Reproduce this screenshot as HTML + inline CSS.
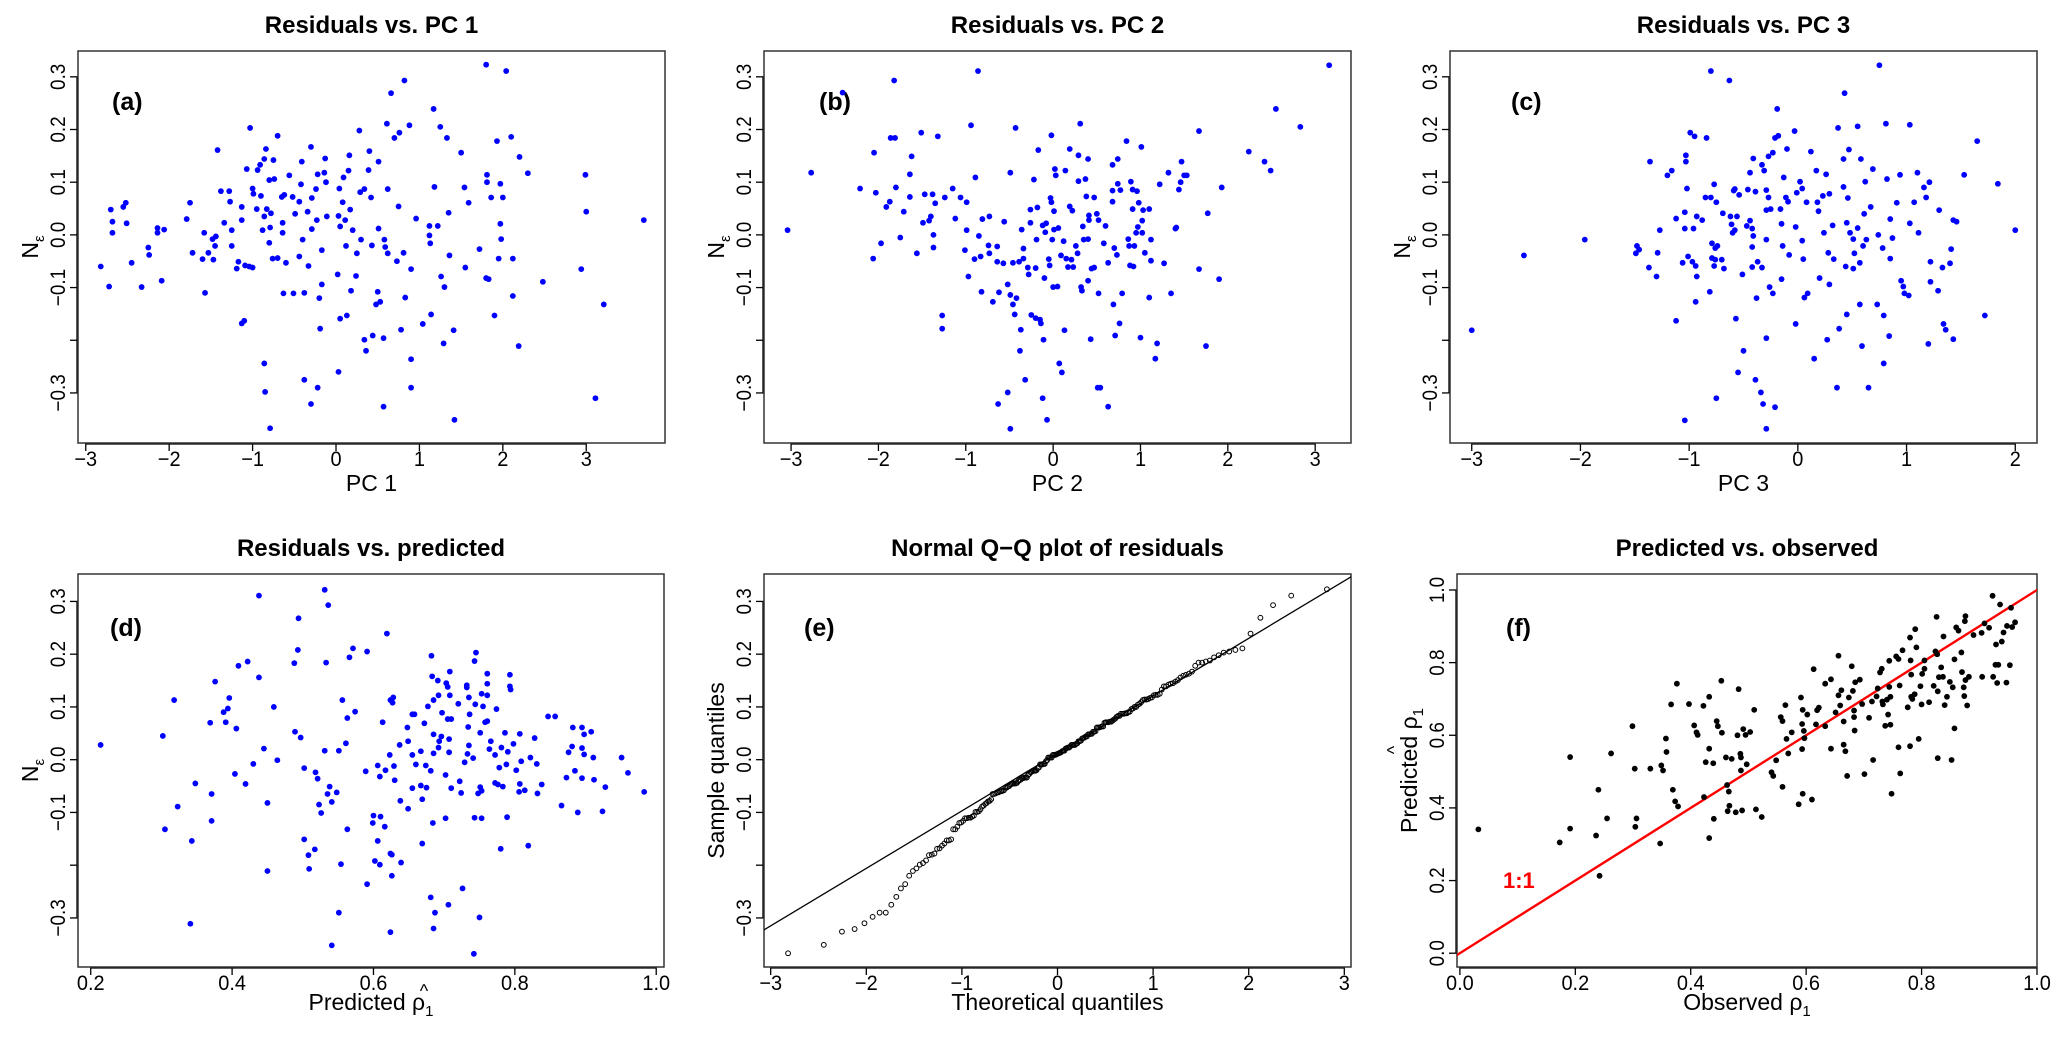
<!DOCTYPE html>
<html><head><meta charset="utf-8"><style>
html,body{margin:0;padding:0;background:#fff;}
svg{display:block;font-family:"Liberation Sans",sans-serif;}
</style></head><body>
<svg id="chart" width="2067" height="1038" viewBox="0 0 2067 1038" xmlns="http://www.w3.org/2000/svg"></svg>
<script>
// ---------- DATA ----------
const pc1Points=[[-2.82,-0.06],[-2.70,0.048],[-2.68,0.025],[-2.68,0.004],[-2.72,-0.098],[-2.55,0.053],[-2.52,0.061],[-2.51,0.022],[-2.45,-0.053],[-2.33,-0.099],[-2.25,-0.024],[-2.24,-0.038],[-2.14,0.013],[-2.14,0.004],[-2.06,0.010],[-2.09,-0.087],[-1.79,0.030],[-1.75,0.061],[-1.72,-0.034],[-1.60,-0.046],[-1.58,0.004],[-1.57,-0.11],[-1.53,-0.034],[-1.48,-0.008],[-1.47,-0.047],[-1.45,-0.021],[-1.44,-0.003],[-1.42,0.161],[-1.38,0.083],[-1.34,0.023],[-1.28,0.083],[-1.27,0.063],[-1.25,0.009],[-1.25,-0.021],[-1.19,-0.064],[-1.17,-0.051],[-1.13,0.053],[-1.13,0.028],[-1.13,-0.168],[-1.10,-0.163],[-1.07,0.125],[-1.09,-0.058],[-1.04,-0.06],[-1.03,0.203],[-1.00,-0.062],[-1.00,0.088],[-0.99,0.078],[-0.95,0.049],[-0.94,0.123],[-0.91,0.133],[-0.90,0.074],[-0.88,0.009],[-0.86,0.035],[-0.86,0.144],[-0.84,0.163],[-0.83,0.049],[-0.80,0.104],[-0.80,-0.015],[-0.79,0.014],[-0.78,0.041],[-0.76,-0.045],[-0.75,0.142],[-0.74,0.106],[-0.70,0.188],[-0.70,-0.044],[-0.65,0.072],[-0.64,0.023],[-0.64,0.004],[-0.63,-0.111],[-0.62,0.076],[-0.60,-0.053],[-0.56,0.113],[-0.52,0.072],[-0.51,-0.111],[-0.49,0.040],[-0.44,0.063],[-0.44,-0.041],[-0.42,0.096],[-0.41,0.139],[-0.40,-0.009],[-0.38,-0.11],[-0.34,0.044],[-0.33,-0.059],[-0.30,0.167],[-0.29,0.070],[-0.29,0.011],[-0.24,0.087],[-0.23,0.028],[-0.22,0.115],[-0.20,-0.12],[-0.19,-0.178],[-0.17,-0.029],[-0.17,-0.094],[-0.14,0.118],[-0.13,0.145],[-0.12,0.10],[-0.11,0.035],[0.02,-0.075],[0.03,0.036],[0.04,0.088],[0.05,-0.159],[0.05,0.016],[0.08,0.062],[0.09,0.109],[0.11,0.028],[0.12,-0.021],[0.13,-0.153],[0.15,0.122],[0.16,0.151],[0.17,0.048],[0.18,-0.106],[0.20,0.009],[0.24,-0.078],[0.25,-0.035],[0.28,0.198],[0.29,0.081],[0.30,-0.009],[0.34,0.087],[0.34,-0.199],[0.36,-0.22],[0.40,0.159],[0.39,0.123],[0.42,0.071],[0.43,-0.02],[0.44,-0.191],[0.48,-0.132],[0.50,-0.108],[0.51,0.139],[0.51,0.012],[0.53,-0.127],[0.57,-0.196],[0.58,-0.009],[0.59,-0.023],[0.61,0.211],[0.62,0.087],[0.62,-0.035],[0.66,0.269],[0.70,0.184],[0.73,-0.05],[0.75,0.054],[0.76,0.194],[0.78,-0.18],[0.81,-0.034],[0.82,0.293],[0.83,-0.119],[0.88,0.208],[0.90,-0.065],[0.90,-0.236],[0.96,0.031],[1.04,-0.169],[1.12,-0.001],[1.12,0.017],[1.13,-0.016],[1.14,-0.151],[1.17,0.239],[1.18,0.091],[1.22,0.017],[1.25,0.205],[1.26,-0.079],[1.29,-0.206],[1.30,-0.099],[1.33,0.184],[1.35,0.042],[1.36,-0.039],[1.41,-0.181],[1.50,0.156],[1.54,0.09],[1.55,-0.062],[1.59,0.061],[1.72,-0.027],[1.80,0.323],[1.80,-0.082],[1.81,0.114],[1.81,0.10],[1.83,-0.084],[1.86,0.071],[1.90,-0.153],[1.93,0.178],[1.95,-0.045],[1.97,0.097],[1.97,0.021],[1.98,-0.008],[2.00,0.071],[2.04,0.311],[2.10,0.186],[2.12,-0.116],[2.12,-0.045],[2.19,-0.211],[2.20,0.148],[2.30,0.117],[2.48,-0.089],[2.94,-0.065],[2.99,0.114],[3.00,0.044],[3.21,-0.132],[3.69,0.028],[-0.86,-0.244],[-0.85,-0.298],[-0.79,-0.367],[-0.38,-0.275],[-0.30,-0.321],[-0.22,-0.290],[0.03,-0.260],[0.57,-0.326],[0.90,-0.290],[1.42,-0.351],[3.11,-0.31]];
const pc2Points=[[-3.04,0.009],[-2.77,0.118],[-2.41,0.27],[-2.21,0.088],[-2.06,-0.045],[-2.05,0.156],[-2.03,0.08],[-1.97,-0.016],[-1.91,0.053],[-1.87,0.063],[-1.86,0.184],[-1.82,0.293],[-1.81,0.184],[-1.80,0.09],[-1.75,-0.005],[-1.71,0.044],[-1.64,0.115],[-1.64,0.072],[-1.62,0.149],[-1.56,-0.035],[-1.51,0.194],[-1.49,0.023],[-1.47,0.077],[-1.42,0.027],[-1.40,0.035],[-1.38,0.077],[-1.37,0.0],[-1.37,-0.024],[-1.35,0.06],[-1.32,0.187],[-1.27,-0.153],[-1.27,-0.178],[-1.24,0.071],[-1.15,0.088],[-1.12,0.031],[-1.06,0.071],[-1.01,-0.029],[-0.99,0.009],[-0.99,0.062],[-0.97,-0.079],[-0.94,0.208],[-0.90,-0.046],[-0.89,0.109],[-0.86,0.311],[-0.85,-0.002],[-0.83,-0.041],[-0.82,-0.108],[-0.81,0.030],[-0.74,-0.02],[-0.73,0.035],[-0.73,-0.035],[-0.69,-0.127],[-0.64,-0.022],[-0.64,-0.051],[-0.63,-0.321],[-0.62,-0.109],[-0.57,-0.054],[-0.56,0.025],[-0.52,-0.094],[-0.52,-0.299],[-0.49,-0.114],[-0.49,-0.368],[-0.49,0.118],[-0.46,-0.053],[-0.46,-0.132],[-0.44,-0.151],[-0.43,0.203],[-0.42,-0.12],[-0.39,-0.051],[-0.38,-0.22],[-0.37,-0.18],[-0.36,0.01],[-0.34,-0.026],[-0.34,-0.045],[-0.32,-0.275],[-0.29,-0.062],[-0.28,-0.075],[-0.26,0.048],[-0.26,0.023],[-0.25,-0.152],[-0.20,-0.158],[-0.22,0.105],[-0.20,-0.063],[-0.19,-0.009],[-0.18,0.052],[-0.17,0.161],[-0.15,-0.161],[-0.14,-0.168],[-0.12,-0.31],[-0.11,-0.199],[-0.12,0.018],[-0.10,-0.082],[-0.09,0.005],[-0.08,0.022],[-0.07,-0.351],[-0.05,-0.046],[-0.04,-0.058],[-0.03,0.07],[-0.02,0.189],[-0.02,0.062],[-0.01,-0.009],[0.0,-0.099],[0.01,0.045],[0.01,0.01],[0.02,0.125],[0.03,0.113],[0.05,-0.098],[0.06,0.013],[0.07,-0.244],[0.09,-0.039],[0.10,-0.261],[0.12,-0.012],[0.13,-0.181],[0.14,0.122],[0.15,-0.045],[0.17,-0.061],[0.19,0.054],[0.19,0.163],[0.21,-0.047],[0.22,0.046],[0.23,-0.061],[0.26,-0.021],[0.28,-0.035],[0.29,0.151],[0.29,0.102],[0.31,0.211],[0.32,-0.099],[0.33,-0.106],[0.34,0.016],[0.35,-0.009],[0.37,0.106],[0.38,0.073],[0.40,0.144],[0.40,-0.008],[0.40,-0.087],[0.41,0.028],[0.41,0.037],[0.43,-0.198],[0.44,-0.064],[0.47,0.071],[0.47,-0.062],[0.50,0.04],[0.51,-0.29],[0.52,0.028],[0.52,-0.111],[0.54,-0.29],[0.58,-0.016],[0.60,0.017],[0.63,-0.053],[0.63,-0.326],[0.68,0.133],[0.68,0.063],[0.68,0.084],[0.69,-0.132],[0.70,-0.025],[0.71,-0.191],[0.73,-0.038],[0.74,0.144],[0.74,0.097],[0.76,-0.168],[0.77,0.085],[0.79,-0.111],[0.84,0.178],[0.86,-0.008],[0.87,-0.021],[0.88,-0.058],[0.89,0.101],[0.91,0.049],[0.91,0.086],[0.92,-0.06],[0.93,-0.021],[0.95,0.004],[0.96,0.083],[0.97,0.015],[0.98,0.061],[1.00,-0.195],[1.01,0.167],[1.02,0.004],[1.02,0.027],[1.03,0.047],[1.05,-0.034],[1.10,-0.119],[1.10,0.049],[1.12,-0.009],[1.12,-0.049],[1.17,-0.235],[1.19,-0.206],[1.22,0.096],[1.27,-0.054],[1.32,0.118],[1.35,-0.111],[1.40,0.012],[1.41,0.014],[1.44,0.086],[1.46,0.1],[1.47,0.139],[1.50,0.113],[1.53,0.113],[1.67,0.197],[1.67,-0.065],[1.75,-0.211],[1.77,0.041],[1.90,-0.084],[1.93,0.09],[2.24,0.158],[2.42,0.139],[2.49,0.122],[2.55,0.239],[2.83,0.205],[3.16,0.322]];
const pc3Points=[[-3.00,-0.181],[-2.52,-0.039],[-1.96,-0.009],[-1.49,-0.035],[-1.48,-0.021],[-1.46,-0.028],[-1.37,-0.062],[-1.36,0.139],[-1.30,-0.079],[-1.29,-0.034],[-1.27,0.009],[-1.20,0.113],[-1.16,0.122],[-1.12,-0.163],[-1.12,0.031],[-1.06,-0.053],[-1.04,-0.352],[-1.04,0.043],[-1.04,0.012],[-1.03,0.151],[-1.03,0.139],[-1.02,0.088],[-1.01,-0.041],[-0.99,0.194],[-0.97,-0.051],[-0.96,0.012],[-0.95,0.187],[-0.94,-0.127],[-0.94,-0.059],[-0.93,0.035],[-0.93,-0.079],[-0.88,0.028],[-0.85,0.071],[-0.84,0.184],[-0.81,-0.108],[-0.80,0.311],[-0.80,0.071],[-0.79,-0.016],[-0.79,-0.044],[-0.77,0.096],[-0.77,-0.059],[-0.76,-0.047],[-0.76,-0.025],[-0.75,-0.31],[-0.75,0.062],[-0.74,-0.021],[-0.70,-0.047],[-0.69,0.041],[-0.68,-0.064],[-0.63,0.293],[-0.62,0.035],[-0.61,0.02],[-0.60,0.004],[-0.59,0.084],[-0.58,0.087],[-0.58,0.009],[-0.57,-0.159],[-0.56,0.035],[-0.55,-0.261],[-0.54,0.076],[-0.51,-0.075],[-0.50,-0.22],[-0.47,0.017],[-0.46,0.086],[-0.44,0.118],[-0.44,0.027],[-0.42,0.012],[-0.42,-0.023],[-0.42,-0.061],[-0.41,0.145],[-0.41,-0.002],[-0.39,-0.275],[-0.39,0.082],[-0.38,-0.12],[-0.37,-0.051],[-0.34,-0.299],[-0.33,0.133],[-0.33,-0.062],[-0.32,-0.321],[-0.31,0.122],[-0.29,0.047],[-0.29,0.085],[-0.29,-0.368],[-0.29,-0.009],[-0.29,-0.196],[-0.27,0.071],[-0.27,0.149],[-0.26,-0.099],[-0.25,0.049],[-0.23,0.156],[-0.23,-0.111],[-0.21,-0.327],[-0.21,0.184],[-0.19,0.239],[-0.18,0.188],[-0.16,0.049],[-0.15,0.021],[-0.15,-0.084],[-0.14,-0.021],[-0.13,0.109],[-0.11,0.071],[-0.10,0.163],[-0.09,0.063],[-0.08,-0.038],[-0.03,0.197],[-0.02,0.015],[-0.02,-0.169],[-0.01,0.08],[0.02,0.101],[0.04,-0.011],[0.04,0.088],[0.05,-0.046],[0.06,-0.119],[0.09,-0.111],[0.08,0.062],[0.12,0.158],[0.15,-0.235],[0.17,0.122],[0.18,0.062],[0.19,0.045],[0.20,-0.082],[0.23,0.074],[0.24,0.004],[0.26,0.115],[0.27,-0.199],[0.28,-0.034],[0.29,0.078],[0.29,-0.094],[0.32,0.018],[0.33,-0.046],[0.36,-0.29],[0.37,0.203],[0.38,-0.178],[0.42,0.091],[0.42,0.144],[0.43,0.269],[0.44,-0.06],[0.45,-0.151],[0.45,0.023],[0.46,0.07],[0.47,0.162],[0.48,0.004],[0.51,-0.008],[0.51,-0.064],[0.52,-0.035],[0.55,0.013],[0.55,0.206],[0.57,-0.132],[0.57,-0.053],[0.58,0.144],[0.59,-0.211],[0.60,-0.021],[0.61,0.04],[0.62,0.101],[0.63,-0.009],[0.65,-0.29],[0.67,0.053],[0.69,0.125],[0.73,-0.132],[0.74,0.0],[0.75,0.322],[0.78,-0.025],[0.79,-0.244],[0.79,-0.153],[0.81,0.211],[0.82,0.106],[0.84,-0.192],[0.85,-0.045],[0.85,0.03],[0.87,-0.006],[0.91,0.061],[0.94,0.114],[0.95,-0.087],[0.97,-0.098],[0.98,-0.111],[1.02,-0.115],[1.03,0.209],[1.03,0.022],[1.07,0.062],[1.10,0.118],[1.11,0.004],[1.16,0.09],[1.18,0.071],[1.20,-0.207],[1.21,0.10],[1.22,-0.051],[1.22,-0.089],[1.29,-0.106],[1.30,0.047],[1.33,-0.062],[1.34,-0.169],[1.36,-0.18],[1.40,-0.054],[1.41,-0.027],[1.43,0.028],[1.43,-0.198],[1.46,0.025],[1.53,0.114],[1.65,0.178],[1.72,-0.153],[1.84,0.097],[2.00,0.009]];
const predPoints=[[0.214,0.028],[0.302,0.045],[0.305,-0.132],[0.318,0.113],[0.323,-0.089],[0.341,-0.311],[0.343,-0.154],[0.348,-0.045],[0.369,0.070],[0.371,-0.065],[0.371,-0.116],[0.376,0.148],[0.388,0.09],[0.391,0.071],[0.394,0.097],[0.396,0.117],[0.404,-0.027],[0.406,0.059],[0.409,0.178],[0.419,-0.046],[0.422,0.186],[0.430,-0.008],[0.438,0.311],[0.438,0.156],[0.445,0.021],[0.450,-0.211],[0.450,-0.082],[0.459,0.10],[0.464,-0.001],[0.488,0.183],[0.489,0.053],[0.493,0.208],[0.494,0.268],[0.497,0.042],[0.502,-0.016],[0.502,-0.151],[0.508,-0.181],[0.509,-0.207],[0.517,-0.17],[0.518,-0.024],[0.521,-0.036],[0.523,-0.085],[0.526,-0.101],[0.531,0.322],[0.531,0.017],[0.533,0.184],[0.535,-0.065],[0.536,0.293],[0.538,-0.051],[0.541,-0.080],[0.541,-0.352],[0.548,-0.062],[0.551,0.017],[0.551,-0.29],[0.554,-0.198],[0.556,0.113],[0.561,0.031],[0.563,0.079],[0.563,-0.132],[0.566,0.194],[0.571,0.211],[0.574,0.091],[0.589,-0.022],[0.591,0.205],[0.591,-0.236],[0.599,-0.12],[0.600,-0.106],[0.602,-0.192],[0.606,-0.011],[0.606,-0.154],[0.609,-0.032],[0.609,-0.199],[0.610,-0.108],[0.613,0.071],[0.616,-0.127],[0.617,-0.02],[0.619,0.239],[0.623,0.009],[0.624,-0.327],[0.624,-0.178],[0.626,-0.18],[0.624,0.113],[0.627,0.108],[0.628,0.118],[0.626,-0.22],[0.629,-0.012],[0.630,-0.039],[0.637,0.028],[0.638,-0.078],[0.639,-0.195],[0.648,0.061],[0.649,-0.093],[0.649,0.035],[0.655,0.009],[0.655,-0.054],[0.655,0.086],[0.658,0.086],[0.660,-0.009],[0.667,0.016],[0.667,-0.049],[0.669,-0.075],[0.669,-0.159],[0.672,0.069],[0.674,-0.011],[0.675,-0.053],[0.677,0.101],[0.681,-0.261],[0.681,-0.021],[0.682,0.197],[0.683,0.158],[0.684,-0.12],[0.685,-0.32],[0.685,0.012],[0.685,0.048],[0.685,0.113],[0.687,-0.29],[0.691,0.15],[0.692,0.122],[0.692,0.023],[0.693,0.035],[0.696,0.044],[0.697,0.089],[0.702,-0.029],[0.702,-0.111],[0.703,0.145],[0.705,0.138],[0.705,0.077],[0.706,-0.275],[0.707,0.039],[0.707,0.014],[0.708,0.167],[0.708,0.122],[0.710,0.077],[0.710,-0.054],[0.720,0.106],[0.722,-0.041],[0.724,-0.063],[0.726,-0.244],[0.729,-0.005],[0.732,0.141],[0.732,0.137],[0.733,0.011],[0.734,0.062],[0.735,0.118],[0.735,0.027],[0.736,0.086],[0.741,0.003],[0.742,-0.368],[0.743,0.187],[0.743,-0.11],[0.744,0.105],[0.745,0.203],[0.748,-0.064],[0.750,-0.299],[0.751,0.051],[0.751,-0.052],[0.753,0.125],[0.753,-0.059],[0.753,-0.111],[0.755,0.101],[0.758,0.071],[0.761,0.122],[0.761,0.163],[0.761,0.144],[0.761,0.073],[0.764,0.02],[0.766,0.035],[0.772,0.009],[0.772,-0.044],[0.774,0.096],[0.776,-0.047],[0.778,-0.015],[0.780,-0.169],[0.781,0.023],[0.783,-0.051],[0.786,0.051],[0.788,-0.009],[0.789,-0.109],[0.790,0.015],[0.793,0.161],[0.793,0.139],[0.794,0.133],[0.798,0.03],[0.802,-0.02],[0.806,-0.061],[0.807,-0.046],[0.807,0.049],[0.809,-0.003],[0.814,-0.058],[0.819,-0.163],[0.822,0.004],[0.828,0.041],[0.831,-0.008],[0.832,-0.064],[0.838,-0.047],[0.847,0.082],[0.857,0.082],[0.866,-0.087],[0.873,-0.034],[0.876,0.014],[0.881,0.025],[0.882,0.061],[0.885,-0.021],[0.889,-0.1],[0.895,0.022],[0.895,-0.035],[0.895,0.061],[0.898,0.048],[0.898,0.01],[0.908,0.053],[0.911,0.004],[0.912,-0.038],[0.924,-0.098],[0.928,-0.052],[0.951,0.004],[0.960,-0.025],[0.983,-0.061]];
const obsPredPoints=[[0.032,0.341],[0.173,0.305],[0.191,0.540],[0.191,0.343],[0.236,0.324],[0.240,0.450],[0.242,0.213],[0.255,0.371],[0.262,0.550],[0.299,0.625],[0.303,0.508],[0.304,0.348],[0.306,0.371],[0.330,0.508],[0.349,0.517],[0.352,0.503],[0.347,0.302],[0.357,0.591],[0.358,0.554],[0.369,0.450],[0.373,0.418],[0.376,0.742],[0.378,0.404],[0.366,0.685],[0.397,0.686],[0.406,0.627],[0.410,0.608],[0.412,0.601],[0.422,0.681],[0.423,0.430],[0.426,0.526],[0.432,0.706],[0.432,0.563],[0.432,0.317],[0.439,0.523],[0.440,0.370],[0.445,0.639],[0.447,0.625],[0.453,0.750],[0.454,0.607],[0.461,0.539],[0.463,0.463],[0.464,0.391],[0.466,0.445],[0.467,0.406],[0.471,0.535],[0.478,0.388],[0.481,0.600],[0.483,0.727],[0.486,0.549],[0.487,0.539],[0.487,0.503],[0.489,0.393],[0.491,0.617],[0.497,0.520],[0.495,0.601],[0.503,0.609],[0.510,0.670],[0.513,0.396],[0.523,0.375],[0.540,0.498],[0.543,0.488],[0.548,0.531],[0.556,0.650],[0.559,0.639],[0.559,0.458],[0.564,0.683],[0.566,0.590],[0.569,0.550],[0.575,0.608],[0.587,0.410],[0.591,0.704],[0.593,0.631],[0.593,0.562],[0.594,0.670],[0.594,0.439],[0.596,0.612],[0.597,0.592],[0.602,0.657],[0.610,0.423],[0.613,0.782],[0.617,0.630],[0.619,0.669],[0.622,0.676],[0.633,0.742],[0.633,0.625],[0.643,0.563],[0.643,0.754],[0.651,0.663],[0.656,0.819],[0.656,0.710],[0.659,0.682],[0.661,0.724],[0.665,0.574],[0.665,0.638],[0.668,0.556],[0.671,0.488],[0.674,0.704],[0.679,0.790],[0.681,0.722],[0.683,0.650],[0.683,0.668],[0.684,0.613],[0.685,0.746],[0.693,0.753],[0.697,0.686],[0.701,0.493],[0.709,0.648],[0.714,0.693],[0.716,0.532],[0.722,0.707],[0.724,0.729],[0.728,0.773],[0.731,0.783],[0.732,0.693],[0.733,0.685],[0.737,0.626],[0.740,0.698],[0.742,0.657],[0.744,0.805],[0.744,0.733],[0.746,0.706],[0.746,0.629],[0.748,0.439],[0.756,0.817],[0.760,0.810],[0.760,0.567],[0.762,0.737],[0.763,0.495],[0.767,0.834],[0.776,0.677],[0.780,0.869],[0.780,0.570],[0.781,0.806],[0.782,0.706],[0.782,0.767],[0.784,0.700],[0.788,0.713],[0.789,0.892],[0.791,0.842],[0.795,0.590],[0.798,0.735],[0.800,0.685],[0.801,0.769],[0.805,0.806],[0.805,0.783],[0.813,0.691],[0.821,0.736],[0.824,0.831],[0.826,0.926],[0.827,0.823],[0.828,0.537],[0.828,0.721],[0.830,0.760],[0.834,0.787],[0.837,0.761],[0.838,0.872],[0.840,0.683],[0.844,0.706],[0.849,0.747],[0.852,0.532],[0.854,0.732],[0.857,0.619],[0.857,0.809],[0.860,0.897],[0.864,0.888],[0.869,0.828],[0.870,0.774],[0.873,0.732],[0.874,0.708],[0.875,0.914],[0.876,0.928],[0.876,0.752],[0.879,0.682],[0.882,0.761],[0.890,0.876],[0.904,0.882],[0.905,0.761],[0.909,0.908],[0.917,0.896],[0.923,0.984],[0.924,0.761],[0.928,0.794],[0.929,0.850],[0.931,0.744],[0.933,0.794],[0.936,0.960],[0.939,0.858],[0.942,0.883],[0.947,0.745],[0.948,0.901],[0.953,0.793],[0.955,0.951],[0.957,0.898],[0.962,0.911]];
const qqLineIntercept=0.012;
const qqLineSlope=0.109;
const residTicks=[0.3,0.2,0.1,0.0,-0.1,-0.2,-0.3];
const residTickLabels=["0.3","0.2","0.1","0.0","\u22120.1","","\u22120.3"];
const pcTicks=[-3,-2,-1,0,1,2,3];
const pcTickLabels=["\u22123","\u22122","\u22121","0","1","2","3"];
const pc3Ticks=[-3,-2,-1,0,1,2];
const pc3TickLabels=["\u22123","\u22122","\u22121","0","1","2"];
const predTicks=[0.2,0.4,0.6,0.8,1.0];
const predTickLabels=["0.2","0.4","0.6","0.8","1.0"];
const unitTicks=[0.0,0.2,0.4,0.6,0.8,1.0];
const unitTickLabels=["0.0","0.2","0.4","0.6","0.8","1.0"];

// ---------- DRAWING ----------
const NS="http://www.w3.org/2000/svg";
const svg=document.getElementById('chart');
function mk(tag,parent){const e=document.createElementNS(NS,tag);parent.appendChild(e);return e;}
function geo(e,o){for(const k in o)e.setAttribute(k,o[k]);}
function qnorm(p){
  const a=[-39.69683028665376,220.9460984245205,-275.9285104469687,138.357751867269,-30.66479806614716,2.506628277459239];
  const b=[-54.47609879822406,161.5858368580409,-155.6989798598866,66.80131188771972,-13.28068155288572];
  const c=[-0.007784894002430293,-0.3223964580411365,-2.400758277161838,-2.549732539343734,4.374664141464968,2.938163982698783];
  const d=[0.007784695709041462,0.3224671290700398,2.445134137142996,3.754408661907416];
  let q,r;
  if(p<0.02425){q=Math.sqrt(-2*Math.log(p));return (((((c[0]*q+c[1])*q+c[2])*q+c[3])*q+c[4])*q+c[5])/((((d[0]*q+d[1])*q+d[2])*q+d[3])*q+1);}
  if(p>1-0.02425){q=Math.sqrt(-2*Math.log(1-p));return -(((((c[0]*q+c[1])*q+c[2])*q+c[3])*q+c[4])*q+c[5])/((((d[0]*q+d[1])*q+d[2])*q+d[3])*q+1);}
  q=p-0.5;r=q*q;
  return (((((a[0]*r+a[1])*r+a[2])*r+a[3])*r+a[4])*r+a[5])*q/(((((b[0]*r+b[1])*r+b[2])*r+b[3])*r+b[4])*r+1);
}
let clipId=0;
function panel(p){
  const g=mk('g',svg);
  
  
  const [L,T,R,B]=p.box;
  const sx=v=>L+(v-p.xd[0])/(p.xd[1]-p.xd[0])*(R-L);
  const sy=v=>B-(v-p.yd[0])/(p.yd[1]-p.yd[0])*(B-T);
  const t=mk('text',g);
  
  
  geo(t,{x:(L+R)/2,y:T-18,'text-anchor':'middle','font-size':24,'font-weight':'bold',fill:'#000'});
  t.textContent=p.title;
  const xa=mk('g',g);
  
  
  const xl=mk('line',xa);
  geo(xl,{x1:sx(p.xt[0]),x2:sx(p.xt[p.xt.length-1]),y1:B+1,y2:B+1,stroke:'#000','stroke-width':1.3});
  p.xt.forEach((v,i)=>{
    const tk=mk('line',xa);
    
    
    geo(tk,{x1:sx(v),x2:sx(v),y1:B,y2:B+8,stroke:'#000','stroke-width':1.3});
    const lb=mk('text',xa);
    
    
    geo(lb,{transform:`translate(${sx(v)},${B+23}) scale(0.95,1)`,'text-anchor':'middle','font-size':21,fill:'#000'});
    lb.textContent=p.xl[i];
  });
  const ya=mk('g',g);
  
  
  const yl=mk('line',ya);
  geo(yl,{x1:L-1,x2:L-1,y1:sy(p.yt[0]),y2:sy(p.yt[p.yt.length-1]),stroke:'#000','stroke-width':1.3});
  p.yt.forEach((v,i)=>{
    const tk=mk('line',ya);
    
    
    geo(tk,{x1:L-8,x2:L,y1:sy(v),y2:sy(v),stroke:'#000','stroke-width':1.3});
    if(p.yl[i]){
      const lb=mk('text',ya);
      
      
      geo(lb,{transform:`translate(${L-13},${sy(v)}) rotate(-90) scale(0.9,1)`,'text-anchor':'middle','font-size':21,fill:'#000'});
      lb.textContent=p.yl[i];
    }
  });
  const bx=mk('rect',g);
  
  
  geo(bx,{x:L,y:T,width:R-L,height:B-T,fill:'none',stroke:'#333','stroke-width':1.5});
  const tg=mk('text',g);
  
  
  geo(tg,{x:L+p.tagDx,y:T+p.tagDy,'font-size':25,'font-weight':'bold',fill:'#000'});
  tg.textContent=p.tag;
  clipId++;
  const cp=mk('clipPath',g);geo(cp,{id:'cp'+clipId});
  const cr=mk('rect',cp);geo(cr,{x:L,y:T,width:R-L,height:B-T});
  const marks=mk('g',g);
  
  
  geo(marks,{'clip-path':`url(#cp${clipId})`});
  return {g,sx,sy,L,T,R,B,marks};
}
function xTitle(P,parts,y){
  const t=mk('text',P.g);
  
  
  geo(t,{x:(P.L+P.R)/2,y:y,'text-anchor':'middle','font-size':23,fill:'#000'});
  t.innerHTML=parts;
  return t;
}
function yTitle(P,parts){
  const t=mk('text',P.g);
  
  
  geo(t,{transform:`translate(${P.L-40},${(P.T+P.B)/2}) rotate(-90)`,'text-anchor':'middle','font-size':23,fill:'#000'});
  t.innerHTML=parts;
  return t;
}
function dots(P,pts,color){
  pts.forEach(d=>{
    const c=mk('circle',P.marks);
    
    
    geo(c,{cx:P.sx(d[0]),cy:P.sy(d[1]),r:2.9,fill:color});
  });
}
const NEPS='N<tspan font-size="15" dy="6">\u03b5</tspan>';
const resYd=[-0.395,0.349];
const A=panel({name:'panel-a-residuals-vs-pc1',box:[78,51,665,443],xd:[-3.093,3.944],yd:resYd,xt:pcTicks,xl:pcTickLabels,yt:residTicks,yl:residTickLabels,title:'Residuals vs. PC 1',tag:'(a)',tagDx:34,tagDy:59});
dots(A,pc1Points,'#0000ff');xTitle(A,'PC 1',491);yTitle(A,NEPS);
const Bp=panel({name:'panel-b-residuals-vs-pc2',box:[764,51,1351,443],xd:[-3.31,3.41],yd:resYd,xt:pcTicks,xl:pcTickLabels,yt:residTicks,yl:residTickLabels,title:'Residuals vs. PC 2',tag:'(b)',tagDx:55,tagDy:59});
dots(Bp,pc2Points,'#0000ff');xTitle(Bp,'PC 2',491);yTitle(Bp,NEPS);
const C=panel({name:'panel-c-residuals-vs-pc3',box:[1450,51,2037,443],xd:[-3.20,2.20],yd:resYd,xt:pc3Ticks,xl:pc3TickLabels,yt:residTicks,yl:residTickLabels,title:'Residuals vs. PC 3',tag:'(c)',tagDx:61,tagDy:59});
dots(C,pc3Points,'#0000ff');xTitle(C,'PC 3',491);yTitle(C,NEPS);
const D=panel({name:'panel-d-residuals-vs-predicted',box:[78,574,664,967],xd:[0.182,1.011],yd:[-0.393,0.352],xt:predTicks,xl:predTickLabels,yt:residTicks,yl:residTickLabels,title:'Residuals vs. predicted',tag:'(d)',tagDx:32,tagDy:62});
dots(D,predPoints,'#0000ff');
xTitle(D,'Predicted \u03c1<tspan font-size="15" dy="6">1</tspan>',1010);
{const h=mk('text',D.g);geo(h,{x:424,y:997,'text-anchor':'middle','font-size':18,fill:'#000'});h.textContent='^';}
yTitle(D,NEPS);
const E=panel({name:'panel-e-normal-qq-plot',box:[764,574,1351,967],xd:[-3.07,3.07],yd:[-0.393,0.352],xt:pcTicks,xl:pcTickLabels,yt:residTicks,yl:residTickLabels,title:'Normal Q\u2212Q plot of residuals',tag:'(e)',tagDx:40,tagDy:62});
{
  const sample=pc1Points.map(d=>d[1]).sort((a,b)=>a-b);
  const n=sample.length;
  const ln=mk('line',E.marks);
  
  
  geo(ln,{x1:E.sx(-3.2),y1:E.sy(qqLineIntercept+qqLineSlope*-3.2),x2:E.sx(3.2),y2:E.sy(qqLineIntercept+qqLineSlope*3.2),stroke:'#000','stroke-width':1.3});
  sample.forEach((v,i)=>{
    const a=n<=10?3/8:0.5;
    const th=qnorm((i+1-a)/(n+1-2*a));
    const c=mk('circle',E.marks);
    
    
    geo(c,{cx:E.sx(th),cy:E.sy(v),r:2.4,fill:'none',stroke:'#000','stroke-width':1});
  });
}
xTitle(E,'Theoretical quantiles',1010);yTitle(E,'Sample quantiles');
const F=panel({name:'panel-f-predicted-vs-observed',box:[1457,574,2037,967],xd:[-0.005,1.0],yd:[-0.038,1.044],xt:unitTicks,xl:unitTickLabels,yt:unitTicks,yl:unitTickLabels,title:'Predicted vs. observed',tag:'(f)',tagDx:49,tagDy:62});
{
  const ln=mk('line',F.marks);
  
  
  geo(ln,{x1:F.sx(-0.05),y1:F.sy(-0.05),x2:F.sx(1.05),y2:F.sy(1.05),stroke:'#ff0000','stroke-width':2.4});
}
dots(F,obsPredPoints,'#000');
{const t=mk('text',F.g);geo(t,{x:1503,y:888,'font-size':22,'font-weight':'bold',fill:'#ff0000'});t.textContent='1:1';}
xTitle(F,'Observed \u03c1<tspan font-size="15" dy="6">1</tspan>',1010);
yTitle(F,'Predicted \u03c1<tspan font-size="15" dy="6">1</tspan>');
{const h=mk('text',F.g);geo(h,{transform:'translate(1400,750) rotate(-90)','text-anchor':'middle','font-size':18,fill:'#000'});h.textContent='^';}
</script>
</body></html>
